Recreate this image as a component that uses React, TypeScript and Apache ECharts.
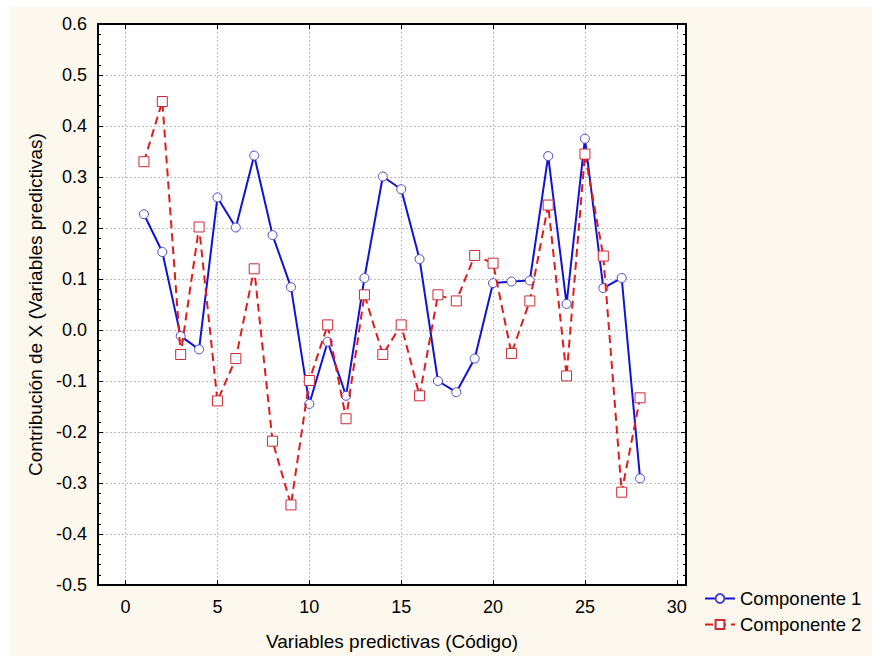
import React, { useEffect, useRef } from "react";
import * as echarts from "echarts";

const codes = [1, 2, 3, 4, 5, 6, 7, 8, 9, 10, 11, 12, 13, 14, 15, 16, 17, 18, 19, 20, 21, 22, 23, 24, 25, 26, 27, 28];
const componente1 = [
  0.227, 0.153, -0.012, -0.038, 0.260, 0.201, 0.342, 0.186, 0.084, -0.145,
  -0.023, -0.129, 0.102, 0.301, 0.276, 0.139, -0.100, -0.122, -0.056, 0.092,
  0.095, 0.097, 0.341, 0.051, 0.375, 0.082, 0.102, -0.291,
];
const componente2 = [
  0.330, 0.448, -0.048, 0.202, -0.139, -0.056, 0.120, -0.218, -0.343, -0.099,
  0.010, -0.174, 0.069, -0.048, 0.010, -0.129, 0.069, 0.057, 0.146, 0.131,
  -0.046, 0.057, 0.245, -0.090, 0.345, 0.145, -0.318, -0.133,
];
const xTicks = [0, 5, 10, 15, 20, 25, 30];
const seriesNames = ["Componente 1", "Componente 2"];
const xTitle = "Variables predictivas (Código)";
const yTitle = "Contribución de X (Variables predictivas)";

const FONT = 'Arial, "Liberation Sans", sans-serif';

export default function App() {
  const ref = useRef<HTMLDivElement>(null);
  useEffect(() => {
    if (!ref.current) return;
    const chart = echarts.init(ref.current, undefined, { renderer: "svg" });
    const axisLine = { show: true, onZero: false, lineStyle: { color: "#000", width: 2 } };
    const fmtY = (v: number) => (Math.abs(v) < 1e-9 ? "0.0" : v.toFixed(1));
    const yBase = {
      type: "value" as const,
      min: -0.5,
      max: 0.6,
      interval: 0.1,
      axisLine,
      axisTick: { show: true, inside: true, length: 5, lineStyle: { color: "#000", width: 1 } },
      minorTick: { show: true, splitNumber: 5, length: 3, lineStyle: { color: "#000", width: 1 } },
    };
    const xBase = {
      type: "value" as const,
      min: -1.5,
      max: 30.5,
      axisLine,
    };
    chart.setOption({
      animation: false,
      backgroundColor: "#fdf8ee",
      textStyle: { fontFamily: FONT },
      grid: {
        left: 89,
        top: 17,
        right: 186,
        bottom: 71,
        show: true,
        backgroundColor: "#ffffff",
        borderWidth: 0,
      },
      legend: {
        data: seriesNames,
        orient: "vertical",
        left: 690,
        top: 577,
        itemWidth: 30,
        itemHeight: 11,
        itemGap: 7,
        textStyle: { fontSize: 18.5, color: "#000", fontFamily: FONT },
      },
      xAxis: [
        {
          ...xBase,
          position: "bottom",
          name: xTitle,
          nameLocation: "middle",
          nameGap: 47,
          nameTextStyle: { fontSize: 19, color: "#000", fontFamily: FONT },
          axisTick: { show: true, inside: true, length: 5, customValues: xTicks, lineStyle: { color: "#000" } },
          axisLabel: { show: true, customValues: xTicks, margin: 13, fontSize: 18, color: "#000", fontFamily: FONT },
          splitLine: { show: true, lineStyle: { color: "#bdbdbd", type: [2, 2], width: 1 } },
        },
        {
          ...xBase,
          position: "top",
          axisTick: { show: true, inside: true, length: 5, customValues: xTicks, lineStyle: { color: "#000" } },
          axisLabel: { show: false },
          splitLine: { show: false },
        },
      ],
      yAxis: [
        {
          ...yBase,
          position: "left",
          name: yTitle,
          nameLocation: "middle",
          nameGap: 51,
          nameTextStyle: { fontSize: 19, color: "#000", fontFamily: FONT },
          axisLabel: { show: true, margin: 11, fontSize: 18, color: "#000", fontFamily: FONT, formatter: fmtY },
          splitLine: { show: true, lineStyle: { color: "#bdbdbd", type: [2, 2], width: 1 } },
        },
        {
          ...yBase,
          position: "right",
          axisLabel: { show: false },
          splitLine: { show: false },
        },
      ],
      series: [
        {
          name: seriesNames[0],
          type: "line",
          xAxisIndex: 0,
          yAxisIndex: 0,
          data: codes.map((c, i) => [c, componente1[i]]),
          symbol: "circle",
          symbolSize: 9,
          showAllSymbol: true,
          lineStyle: { color: "#1212d6", width: 2, type: "solid" },
          itemStyle: { color: "#ffffff", borderColor: "#4848c8", borderWidth: 1 },
          emphasis: { disabled: true },
          z: 2,
        },
        {
          name: seriesNames[1],
          type: "line",
          xAxisIndex: 0,
          yAxisIndex: 0,
          data: codes.map((c, i) => [c, componente2[i]]),
          symbol: "rect",
          symbolSize: 10,
          showAllSymbol: true,
          lineStyle: { color: "#e01b1b", width: 2, type: [8, 5] },
          itemStyle: { color: "#ffffff", borderColor: "#d02835", borderWidth: 1 },
          emphasis: { disabled: true },
          z: 3,
        },
      ],
    });
    return () => chart.dispose();
  }, []);
  return (
    <div style={{ position: "fixed", left: 0, top: 0, width: 872, height: 656, background: "#ffffff" }}>
      <div ref={ref} style={{ position: "absolute", left: 9, top: 7, width: 863, height: 649 }} />
    </div>
  );
}
